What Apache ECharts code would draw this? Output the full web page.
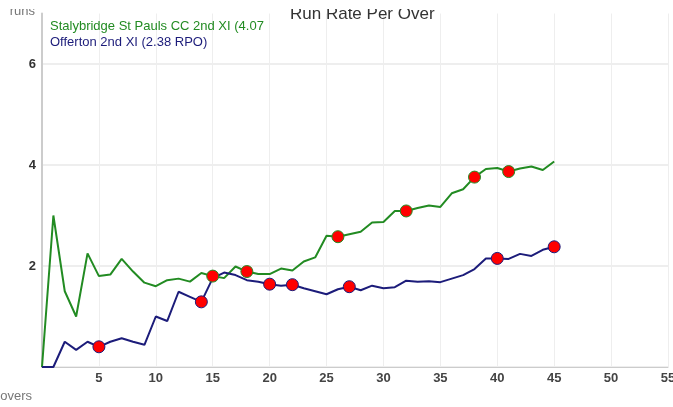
<!DOCTYPE html>
<html>
<head>
<meta charset="utf-8">
<script src="https://cdn.jsdelivr.net/npm/echarts@6/dist/echarts.min.js"></script>
<style>
  html, body { margin: 0; padding: 0; background: #fff; }
  #chart { width: 673px; height: 407px; }
</style>
</head>
<body>
<div id="chart"></div>
<script>
// run rate after each over, over 0..45
const overs = Array.from({ length: 46 }, (_, i) => i);
const stalybridge = [0, 3.0, 1.5, 1.0, 2.25, 1.8, 1.83, 2.14, 1.89, 1.67, 1.6, 1.72, 1.75, 1.69, 1.86, 1.8,
  1.76, 1.99, 1.89, 1.84, 1.84, 1.95, 1.91, 2.09, 2.17, 2.6, 2.58, 2.63, 2.68, 2.86, 2.87, 3.09, 3.09,
  3.15, 3.2, 3.17, 3.44, 3.52, 3.76, 3.92, 3.94, 3.87, 3.93, 3.97, 3.9, 4.07];
const offerton = [0, 0, 0.5, 0.34, 0.5, 0.4, 0.5, 0.57, 0.5, 0.44, 1.0, 0.91, 1.49, 1.39, 1.29, 1.76,
  1.87, 1.82, 1.72, 1.69, 1.64, 1.61, 1.63, 1.56, 1.5, 1.44, 1.54, 1.59, 1.52, 1.61, 1.56, 1.58, 1.71,
  1.69, 1.7, 1.68, 1.75, 1.82, 1.94, 2.15, 2.15, 2.14, 2.24, 2.2, 2.32, 2.38];
// overs in which a wicket fell
const stalyWickets = [15, 18, 26, 32, 38, 41];
const offWickets = [5, 14, 20, 22, 27, 40, 45];

const stalyName = 'Stalybridge St Pauls CC 2nd XI (4.07 RPO)';
const offName = 'Offerton 2nd XI (2.38 RPO)';
const green = '#228b22';
const blue = '#1c1c7a';
const font = 'Liberation Sans';

const chart = echarts.init(document.getElementById('chart'));

chart.setOption({
  animation: false,
  textStyle: { fontFamily: font },
  title: {
    text: 'Run Rate Per Over',
    left: 285,
    top: 1,
    textStyle: { fontFamily: font, fontSize: 17, fontWeight: 'normal', color: '#333' },
  },
  legend: {
    orient: 'vertical',
    left: 40,
    top: 14,
    icon: 'none',
    itemWidth: 0,
    itemGap: 3,
    selectedMode: false,
    textStyle: { fontFamily: font, fontSize: 13, width: 219, overflow: 'truncate', ellipsis: '' },
    data: [
      { name: stalyName, textStyle: { color: green } },
      { name: offName, textStyle: { color: blue } },
    ],
  },
  // the top strip of the original picture is cut off
  graphic: [{
    type: 'rect',
    left: 0,
    top: 0,
    shape: { width: 673, height: 9 },
    style: { fill: '#fff' },
    z: 100,
  }],
  grid: { left: 42, right: 5, top: 13.5, bottom: 40, outerBoundsMode: 'none', containLabel: false },
  xAxis: {
    type: 'value',
    min: 0,
    max: 55,
    interval: 5,
    name: 'overs',
    nameLocation: 'start',
    nameGap: 10,
    nameTextStyle: { color: '#777', fontSize: 13, verticalAlign: 'top', padding: [23, 0, 0, 0] },
    axisLine: { lineStyle: { color: '#ccc' } },
    axisTick: { show: false },
    axisLabel: { color: '#444', fontSize: 13, fontWeight: 'bold', showMinLabel: false, margin: 5 },
    splitLine: { show: true, lineStyle: { color: '#eee' } },
  },
  yAxis: {
    type: 'value',
    min: 0,
    max: 7,
    interval: 1,
    name: 'runs',
    nameLocation: 'end',
    nameGap: 2,
    nameTextStyle: { color: '#777', fontSize: 13, align: 'right', verticalAlign: 'middle', padding: [0, 7, 0, 0] },
    axisLine: { show: true, lineStyle: { color: '#ccc', width: 2 } },
    axisTick: { show: false },
    axisLabel: {
      color: '#333', fontSize: 13, fontWeight: 'bold', margin: 6,
      formatter: v => (v > 0 && v % 2 === 0 ? String(v) : ''),
    },
    splitLine: { show: true, lineStyle: { color: ['#eee', 'rgba(0,0,0,0)'], width: 2 } },
  },
  series: [
    {
      name: stalyName,
      type: 'line',
      data: overs.map(o => [o, stalybridge[o]]),
      showSymbol: false,
      lineStyle: { color: green, width: 2 },
      itemStyle: { color: green },
    },
    {
      name: offName,
      type: 'line',
      data: overs.map(o => [o, offerton[o]]),
      showSymbol: false,
      lineStyle: { color: blue, width: 2 },
      itemStyle: { color: blue },
    },
    {
      name: stalyName,
      type: 'scatter',
      data: stalyWickets.map(o => [o, stalybridge[o]]),
      symbolSize: 12,
      itemStyle: { color: '#f00', borderColor: green, borderWidth: 1, opacity: 1 },
      z: 5,
    },
    {
      name: offName,
      type: 'scatter',
      data: offWickets.map(o => [o, offerton[o]]),
      symbolSize: 12,
      itemStyle: { color: '#f00', borderColor: blue, borderWidth: 1, opacity: 1 },
      z: 5,
    },
  ],
});
</script>
</body>
</html>
